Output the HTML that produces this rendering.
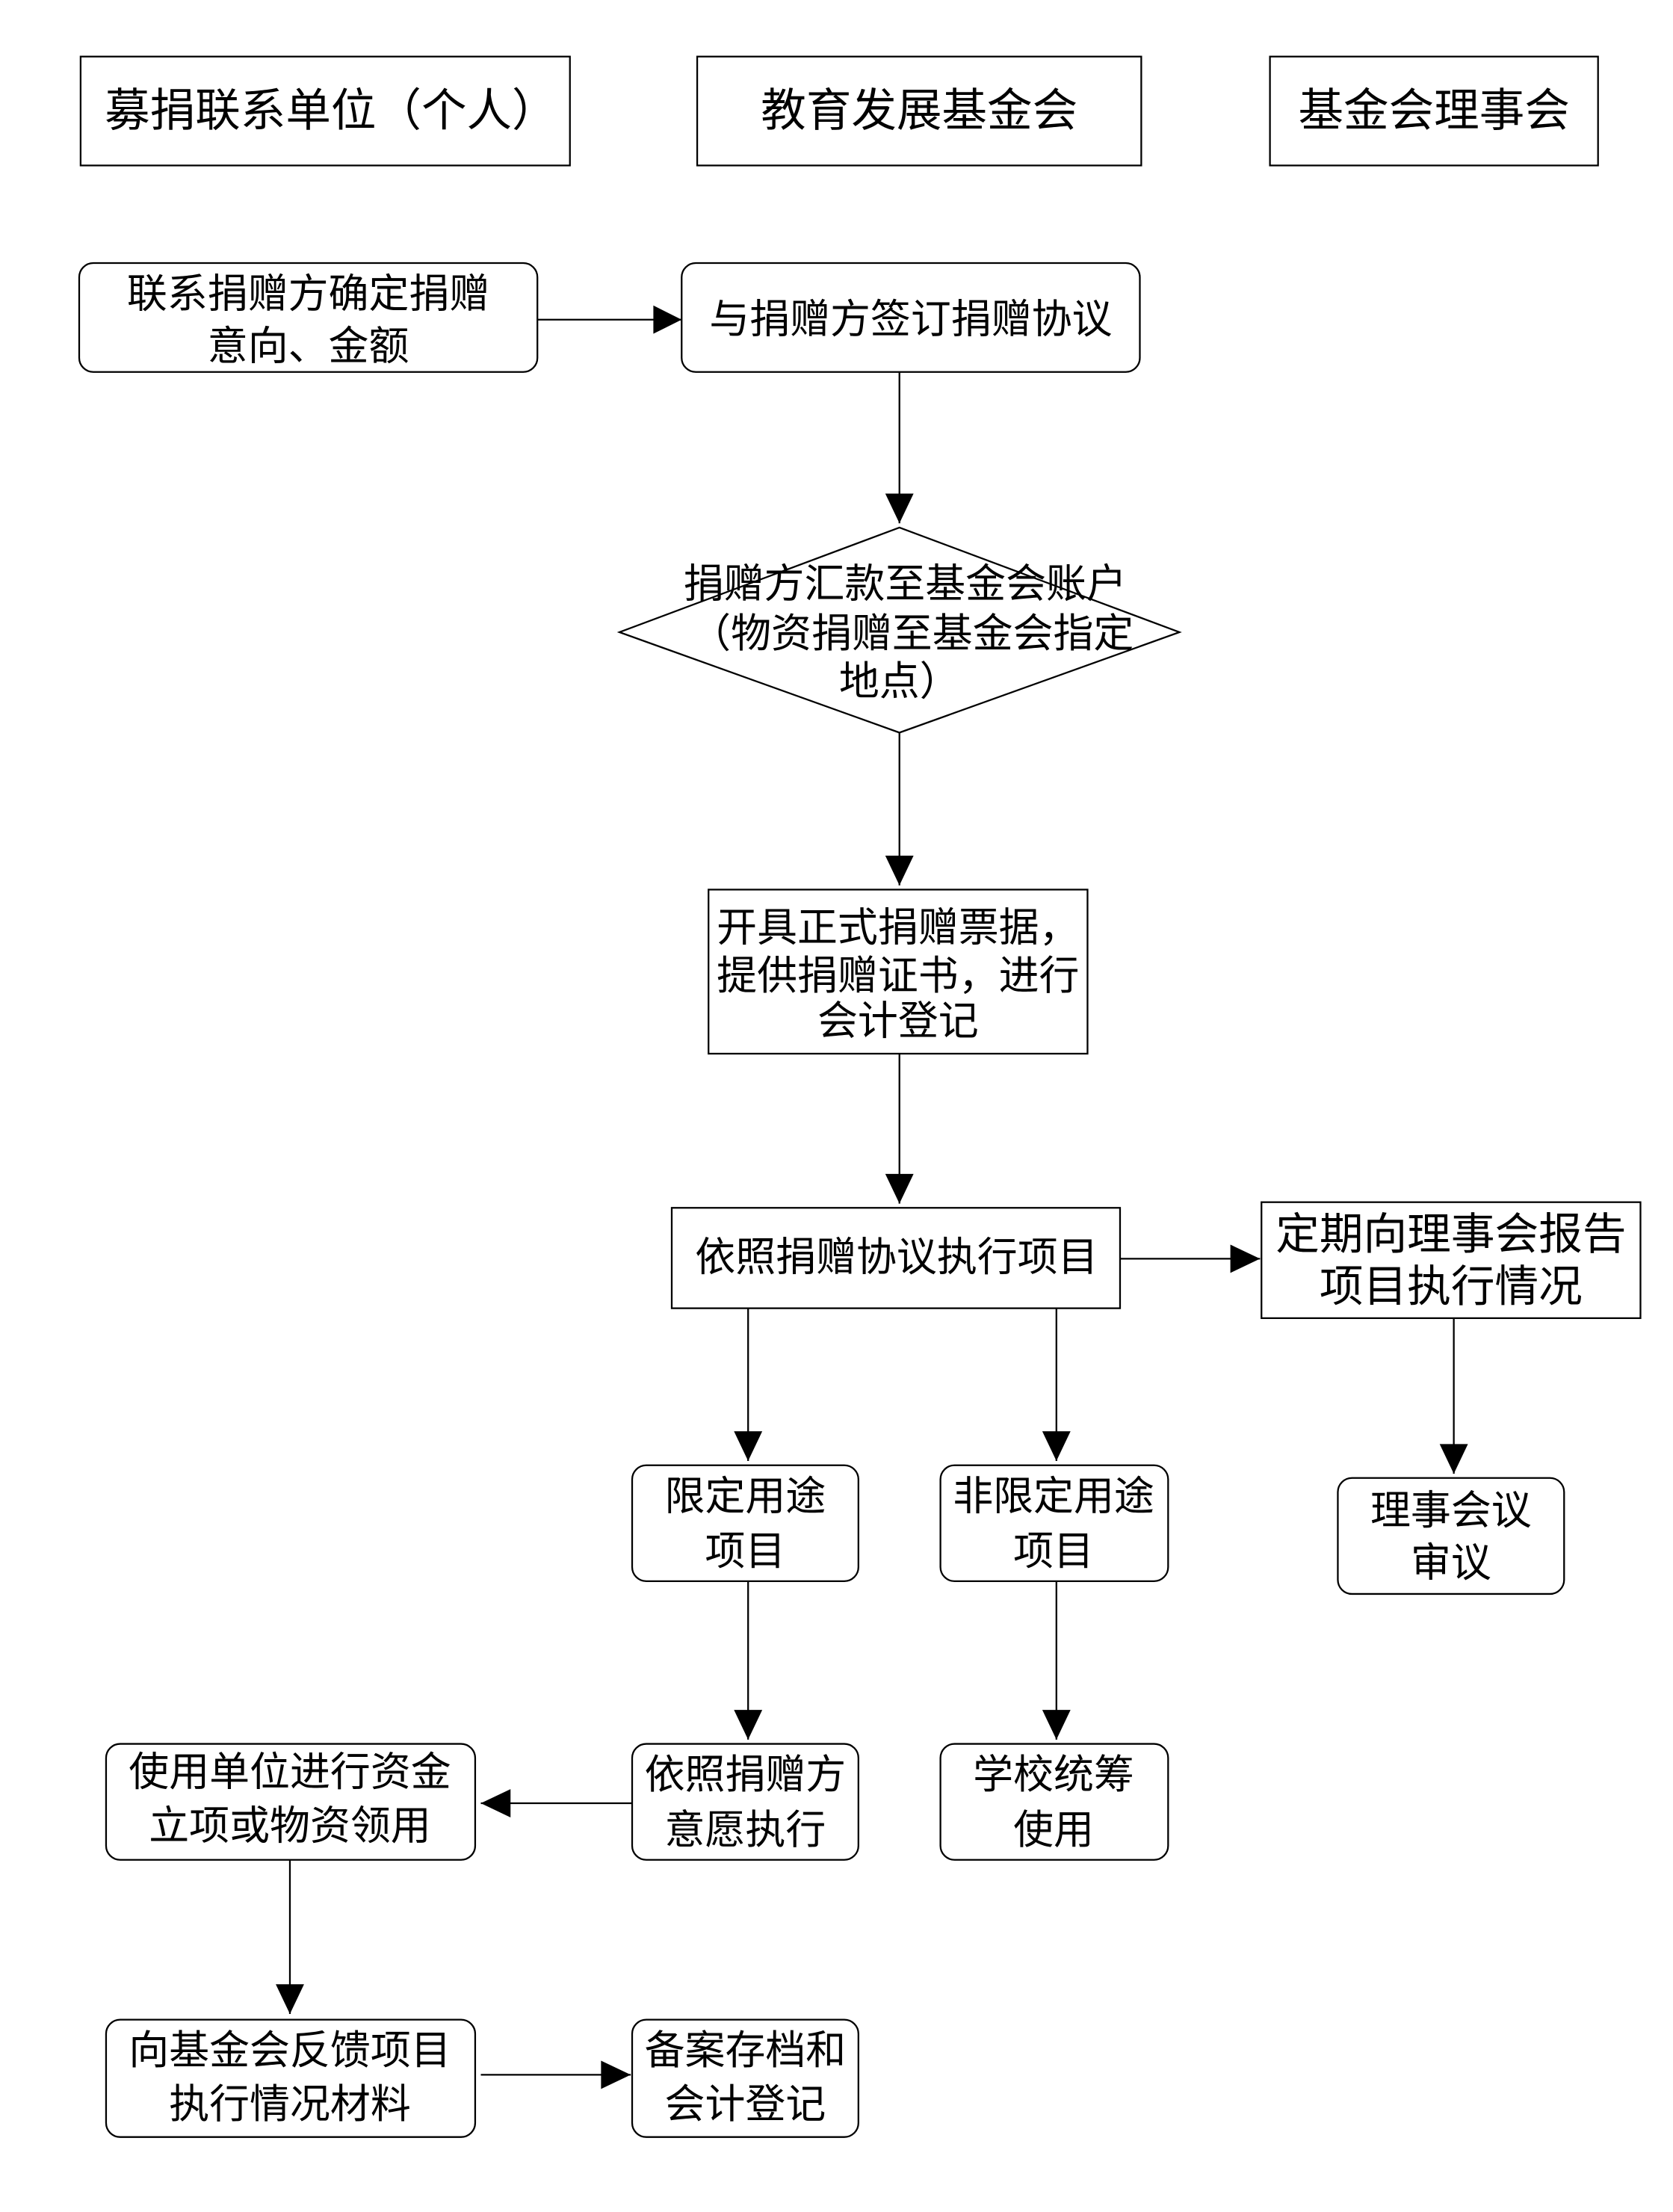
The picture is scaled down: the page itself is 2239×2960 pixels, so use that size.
<!DOCTYPE html>
<html><head><meta charset="utf-8"><style>
html,body{margin:0;padding:0;background:#fff;}
svg{display:block}
text{font-family:"Liberation Sans","Noto Sans CJK SC",sans-serif;fill:#000;text-anchor:middle;dominant-baseline:central}
</style></head><body>
<svg width="2239" height="2960" viewBox="0 0 1183 1564" preserveAspectRatio="none" xmlns="http://www.w3.org/2000/svg">
<g fill="#fff" stroke="#000" stroke-width="1.2">
<rect x="57" y="40" width="346" height="77"/>
<rect x="493" y="40" width="314" height="77"/>
<rect x="898" y="40" width="232" height="77"/>
<rect x="56" y="186" width="324" height="77" rx="10"/>
<rect x="482" y="186" width="324" height="77" rx="10"/>
<polygon points="636,373 834,447 636,518 438,447"/>
<rect x="501" y="629" width="268" height="116"/>
<rect x="475" y="854" width="317" height="71"/>
<rect x="892" y="850" width="268" height="82"/>
<rect x="946" y="1045" width="160" height="82" rx="10"/>
<rect x="447" y="1036" width="160" height="82" rx="10"/>
<rect x="665" y="1036" width="161" height="82" rx="10"/>
<rect x="447" y="1233" width="160" height="82" rx="10"/>
<rect x="665" y="1233" width="161" height="82" rx="10"/>
<rect x="75" y="1233" width="261" height="82" rx="10"/>
<rect x="75" y="1428" width="261" height="83" rx="10"/>
<rect x="447" y="1428" width="160" height="83" rx="10"/>
</g>
<g stroke="#000" stroke-width="1.2" fill="none">
<line x1="380" y1="226" x2="482" y2="226"/>
<line x1="636" y1="263" x2="636" y2="370"/>
<line x1="636" y1="518" x2="636" y2="626"/>
<line x1="636" y1="745" x2="636" y2="851"/>
<line x1="792" y1="890" x2="891" y2="890"/>
<line x1="1028" y1="932" x2="1028" y2="1042"/>
<line x1="529" y1="925" x2="529" y2="1033"/>
<line x1="747" y1="925" x2="747" y2="1033"/>
<line x1="529" y1="1118" x2="529" y2="1230"/>
<line x1="747" y1="1118" x2="747" y2="1230"/>
<line x1="447" y1="1275" x2="340" y2="1275"/>
<line x1="205" y1="1315" x2="205" y2="1424"/>
<line x1="340" y1="1467" x2="446" y2="1467"/>
</g>
<g fill="#000">
<path d="M462,216 L482,226 L462,236z"/>
<path d="M626,349 L636,370 L646,349z"/>
<path d="M626,605 L636,626 L646,605z"/>
<path d="M626,830 L636,851 L646,830z"/>
<path d="M870,880 L891,890 L870,900z"/>
<path d="M1018,1021 L1028,1042 L1038,1021z"/>
<path d="M519,1012 L529,1033 L539,1012z"/>
<path d="M737,1012 L747,1033 L757,1012z"/>
<path d="M519,1209 L529,1230 L539,1209z"/>
<path d="M737,1209 L747,1230 L757,1209z"/>
<path d="M361,1265 L340,1275 L361,1285z"/>
<path d="M195,1403 L205,1424 L215,1403z"/>
<path d="M425,1457 L446,1467 L425,1477z"/>
</g>
<g font-size="32">
<text x="234" y="78">募捐联系单位（个人）</text>
<text x="650" y="78">教育发展基金会</text>
<text x="1014" y="78">基金会理事会</text>
</g>
<g font-size="28.5">
<text x="218" y="208">联系捐赠方确定捐赠</text>
<text x="218" y="245">意向、金额</text>
<text x="644" y="226">与捐赠方签订捐赠协议</text>
<text x="640" y="413">捐赠方汇款至基金会账户</text>
<text x="645" y="448">（物资捐赠至基金会指定</text>
<text x="636" y="482">地点）</text>
<text x="635" y="656">开具正式捐赠票据，</text>
<text x="635" y="690">提供捐赠证书，进行</text>
<text x="635" y="722">会计登记</text>
<text x="634" y="889">依照捐赠协议执行项目</text>
<text x="1026" y="873" font-size="31">定期向理事会报告</text>
<text x="1026" y="910" font-size="31">项目执行情况</text>
<text x="1026" y="1068">理事会议</text>
<text x="1026" y="1105">审议</text>
<text x="527" y="1058">限定用途</text>
<text x="527" y="1097">项目</text>
<text x="745" y="1058">非限定用途</text>
<text x="745" y="1097">项目</text>
<text x="527" y="1255">依照捐赠方</text>
<text x="527" y="1294">意愿执行</text>
<text x="745" y="1255">学校统筹</text>
<text x="745" y="1294">使用</text>
<text x="205" y="1253">使用单位进行资金</text>
<text x="205" y="1291">立项或物资领用</text>
<text x="205" y="1450">向基金会反馈项目</text>
<text x="205" y="1488">执行情况材料</text>
<text x="527" y="1450">备案存档和</text>
<text x="527" y="1488">会计登记</text>
</g>
</svg>
</body></html>
